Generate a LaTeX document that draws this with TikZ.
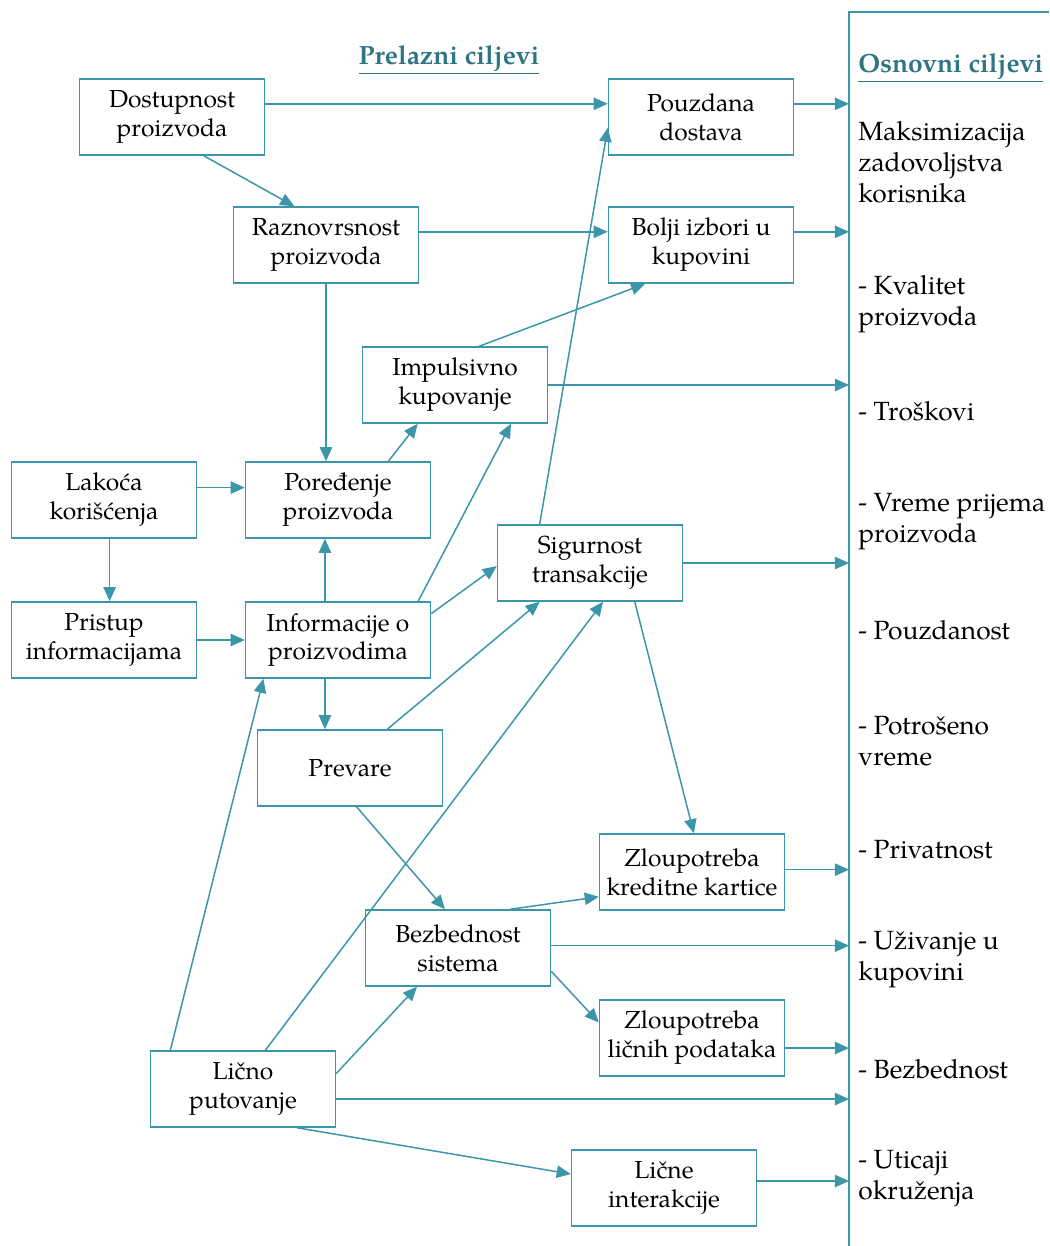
\documentclass[tikz,border=0pt]{standalone}
\usepackage{fontspec}
\setmainfont{TeX Gyre Pagella}
\usetikzlibrary{arrows.meta}
\usetikzlibrary{calc}
\definecolor{lteal}{HTML}{3C96AA}
\definecolor{dteal}{HTML}{2E7585}
\tikzset{box/.style = {draw=lteal, line width=0.85pt, minimum width=3.7cm, minimum height=1.52cm,
                       inner sep=1pt, align=center, font=\fontsize{14}{16.5}\selectfont}}
\tikzset{arr/.style = {draw=lteal, line width=0.85pt, -{Triangle[length=8pt, width=7pt]}}}
\tikzset{goal/.style = {anchor=west, inner sep=0, align=left, font=\fontsize{15}{17.6}\selectfont}}
\tikzset{head/.style = {text=dteal, font=\fontsize{15}{18}\selectfont\bfseries}}

\begin{document}
\begin{tikzpicture}[x=0.02cm, y=-0.02cm]
  \useasboundingbox (0,0) rectangle (1049,1246);

  % right panel
  \draw [lteal, line width=0.85pt] (849,1246) -- (849,12) -- (1049,12);
  \coordinate (panel) at (849,12);

  \node [head] (prelazni) at (449,60) {\underline{Prelazni ciljevi}};
  \node [head, anchor=west, inner sep=0] (osnovni) at (858,68) {\underline{Osnovni ciljevi}};

  \node [goal] (g1) at (858,162) {Maksimizacija\\zadovoljstva\\korisnika};
  \node [goal] (g2) at (858,304) {- Kvalitet\\proizvoda};
  \node [goal] (g3) at (858,411) {- Troškovi};
  \node [goal] (g4) at (858,522) {- Vreme prijema\\proizvoda};
  \node [goal] (g5) at (858,630) {- Pouzdanost};
  \node [goal] (g6) at (858,741) {- Potrošeno\\vreme};
  \node [goal] (g7) at (858,850) {- Privatnost};
  \node [goal] (g8) at (858,960) {- Uživanje u\\kupovini};
  \node [goal] (g9) at (858,1069) {- Bezbednost};
  \node [goal] (g10) at (858,1179) {- Uticaji\\okruženja};

  % boxes
  \node [box] (dostupnost) at (172,117) {Dostupnost\\proizvoda};
  \node [box] (pouzdana) at (701,117) {Pouzdana\\dostava};
  \node [box] (raznovrsnost) at (326,245) {Raznovrsnost\\proizvoda};
  \node [box] (bolji) at (701,245) {Bolji izbori u\\kupovini};
  \node [box] (impulsivno) at (455,385) {Impulsivno\\kupovanje};
  \node [box] (lakoca) at (104,500) {Lakoća\\korišćenja};
  \node [box] (poredjenje) at (338,500) {Poređenje\\proizvoda};
  \node [box] (sigurnost) at (590,563) {Sigurnost\\transakcije};
  \node [box] (pristup) at (104,640) {Pristup\\informacijama};
  \node [box] (informacije) at (338,640) {Informacije o\\proizvodima};
  \node [box] (prevare) at (350,768) {Prevare};
  \node [box] (zloupKartice) at (692,872) {Zloupotreba\\kreditne kartice};
  \node [box] (bezbednost) at (458,948) {Bezbednost\\sistema};
  \node [box] (zloupPodataka) at (692,1038) {Zloupotreba\\ličnih podataka};
  \node [box] (licnoPut) at (243,1089) {Lično\\putovanje};
  \node [box] (licneInter) at (664,1188) {Lične\\interakcije};

  % top
  \draw [arr] ($(dostupnost.north east)!0.33!(dostupnost.south east)$) coordinate (t) -- (t -| pouzdana.west);
  \draw [arr] ($(pouzdana.north east)!0.33!(pouzdana.south east)$) coordinate (t) -- (t -| panel);
  \draw [arr] ($(dostupnost.south west)!0.67!(dostupnost.south east)$) -- ($(raznovrsnost.north west)!0.33!(raznovrsnost.north east)$);
  \draw [arr] ($(raznovrsnost.north east)!0.33!(raznovrsnost.south east)$) coordinate (t) -- (t -| bolji.west);
  \draw [arr] ($(bolji.north east)!0.33!(bolji.south east)$) coordinate (t) -- (t -| panel);
  \draw [arr] (raznovrsnost.south) -- (raznovrsnost.south |- poredjenje.north);
  \draw [arr] ($(impulsivno.north west)!0.63!(impulsivno.north east)$) -- ($(bolji.south west)!0.2!(bolji.south east)$);
  \draw [arr] (impulsivno.east) -- (impulsivno.east -| panel);

  % middle
  \draw [arr] ($(poredjenje.north west)!0.77!(poredjenje.north east)$) -- ($(impulsivno.south west)!0.3!(impulsivno.south east)$);
  \draw [arr] ($(lakoca.north east)!0.34!(lakoca.south east)$) coordinate (t) -- (t -| poredjenje.west);
  \draw [arr] ($(lakoca.south west)!0.53!(lakoca.south east)$) coordinate (t) -- (t |- pristup.north);
  \draw [arr] (pristup.east) -- (pristup.east -| informacije.west);
  \draw [arr] ($(informacije.north west)!0.43!(informacije.north east)$) coordinate (t) -- (t |- poredjenje.south);
  \draw [arr] ($(informacije.north west)!0.93!(informacije.north east)$) -- ($(impulsivno.south west)!0.8!(impulsivno.south east)$);
  \draw [arr] ($(informacije.north east)!0.16!(informacije.south east)$) -- ($(sigurnost.north west)!0.54!(sigurnost.south west)$);
  \draw [arr] ($(sigurnost.north west)!0.23!(sigurnost.north east)$) -- ($(pouzdana.north west)!0.64!(pouzdana.south west)$);
  \draw [arr] (sigurnost.east) -- (sigurnost.east -| panel);
  \draw [arr] ($(informacije.south west)!0.43!(informacije.south east)$) coordinate (t) -- (t |- prevare.north);
  \draw [arr] ($(prevare.north west)!0.7!(prevare.north east)$) -- ($(sigurnost.south west)!0.23!(sigurnost.south east)$);
  \draw [arr] ($(sigurnost.south west)!0.74!(sigurnost.south east)$) -- ($(zloupKartice.north west)!0.51!(zloupKartice.north east)$);

  % bottom
  \draw [arr] ($(prevare.south west)!0.535!(prevare.south east)$) -- ($(bezbednost.north west)!0.43!(bezbednost.north east)$);
  \draw [arr] ($(bezbednost.north west)!0.78!(bezbednost.north east)$) -- ($(zloupKartice.north west)!0.82!(zloupKartice.south west)$);
  \draw [arr] ($(zloupKartice.north east)!0.47!(zloupKartice.south east)$) coordinate (t) -- (t -| panel);
  \draw [arr] ($(bezbednost.north east)!0.47!(bezbednost.south east)$) coordinate (t) -- (t -| panel);
  \draw [arr] ($(bezbednost.north east)!0.8!(bezbednost.south east)$) -- ($(zloupPodataka.north west)!0.3!(zloupPodataka.south west)$);
  \draw [arr] ($(zloupPodataka.north east)!0.63!(zloupPodataka.south east)$) coordinate (t) -- (t -| panel);
  \draw [arr] ($(licnoPut.north west)!0.11!(licnoPut.north east)$) -- ($(informacije.south west)!0.1!(informacije.south east)$);
  \draw [arr] ($(licnoPut.north west)!0.62!(licnoPut.north east)$) -- ($(sigurnost.south west)!0.57!(sigurnost.south east)$);
  \draw [arr] ($(licnoPut.north east)!0.3!(licnoPut.south east)$) -- ($(bezbednost.south west)!0.28!(bezbednost.south east)$);
  \draw [arr] ($(licnoPut.north east)!0.63!(licnoPut.south east)$) coordinate (t) -- (t -| panel);
  \draw [arr] ($(licnoPut.south west)!0.79!(licnoPut.south east)$) -- ($(licneInter.north west)!0.32!(licneInter.south west)$);
  \draw [arr] ($(licneInter.north east)!0.41!(licneInter.south east)$) coordinate (t) -- (t -| panel);
\end{tikzpicture}
\end{document}
